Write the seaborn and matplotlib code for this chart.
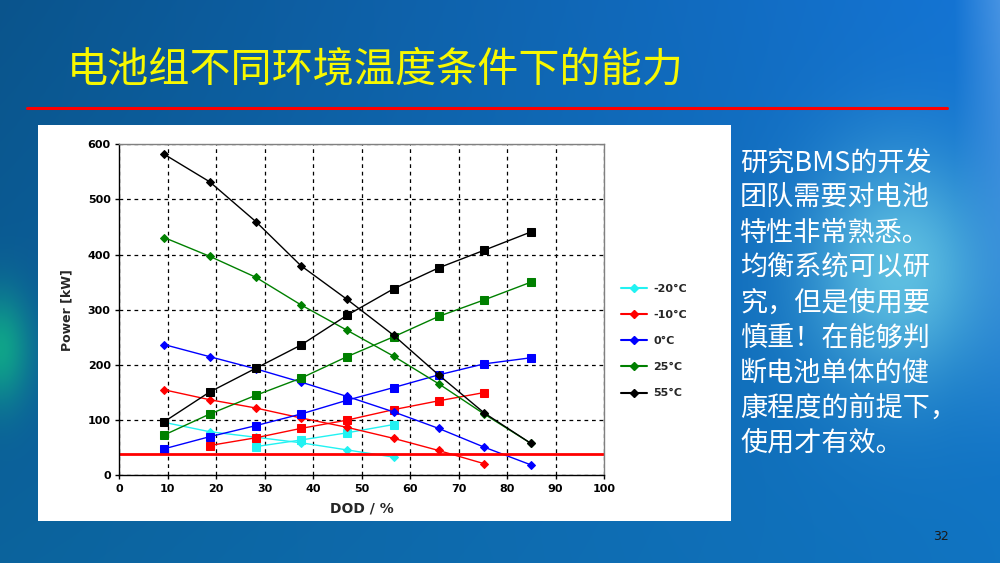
import numpy as np
import pandas as pd
import seaborn as sns
import matplotlib.pyplot as plt
from matplotlib.patches import Rectangle
from matplotlib.lines import Line2D

# DOD positions (%) of the measuring points
dod = [9.3, 18.7, 28.2, 37.5, 47.0, 56.6, 65.9, 75.3, 84.9]

temps = ["-20°C", "-10°C", "0°C", "25°C", "55°C"]
colors = ["#22f2f2", "#ff0000", "#0000ff", "#008000", "#000000"]

# discharge power (diamonds), kW
dis_m20 = [96, 79, 69, 59, 46, 33]
dis_m10 = [155, 137, 122, 104, 87, 67, 45, 21]
dis_0 = [237, 215, 193, 169, 143, 115, 85, 51, 19]
dis_25 = [431, 397, 359, 309, 263, 216, 166, 111, 58]
dis_55 = [582, 532, 460, 380, 319, 254, 182, 113, 58]

# charge power (squares), kW
chg_m20 = [52, 64, 77, 92]
chg_m10 = [54, 68, 85, 100, 119, 135, 150]
chg_0 = [48, 70, 90, 111, 136, 159, 182, 202, 213]
chg_25 = [73, 111, 145, 176, 215, 251, 288, 318, 350]
chg_55 = [97, 151, 194, 236, 290, 338, 376, 408, 441]
chg_start = [2, 1, 0, 0, 0]

limit_kw = 38

title = "电池组不同环境温度条件下的能力"
side_lines = ["研究BMS的开发", "团队需要对电池", "特性非常熟悉。", "均衡系统可以研",
              "究，但是使用要", "慎重！在能够判", "断电池单体的健", "康程度的前提下，",
              "使用才有效。"]

sns.set_style("white")
plt.rcParams['font.family'] = ['Noto Sans CJK SC', 'DejaVu Sans']

fig = plt.figure(figsize=(10, 5.63), dpi=100)

# slide background gradient
h, w = 563, 1000
yy, xx = np.mgrid[0:1:h * 1j, 0:1:w * 1j]
left = np.array([0.04, 0.33, 0.55])
right = np.array([0.08, 0.46, 0.84])
img = left * (1 - xx[..., None]) + right * xx[..., None]
bottom = np.array([0.05, 0.45, 0.68])
img = img * (1 - 0.5 * yy[..., None]) + bottom * 0.5 * yy[..., None]
spot = np.exp(-((xx - 0.90) / 0.09) ** 2 - ((yy - 0.48) / 0.2) ** 2)
img = img * (1 - 0.85 * spot[..., None]) + np.array([0.42, 0.80, 0.90]) * 0.85 * spot[..., None]
teal = np.exp(-((xx - 0.0) / 0.03) ** 2 - ((yy - 0.62) / 0.10) ** 2)
img = img * (1 - teal[..., None]) + np.array([0.06, 0.64, 0.54]) * teal[..., None]
edge = np.clip((xx - 0.955) / 0.045, 0, 1) * np.clip(1 - yy * 1.2, 0, 1)
img = img * (1 - 0.6 * edge[..., None]) + np.array([0.40, 0.65, 0.92]) * 0.6 * edge[..., None]
bg = fig.add_axes([0, 0, 1, 1], zorder=-5)
bg.imshow(np.clip(img, 0, 1), aspect='auto', extent=[0, 1, 0, 1], zorder=0)
bg.set_xlim(0, 1)
bg.set_ylim(0, 1)
bg.set_axis_off()

bg.text(0.067, 1 - 70 / 563, title, fontsize=29.6, color='#f8f800', va='center',
        fontweight='light')
bg.plot([0.027, 0.947], [1 - 107.5 / 563] * 2, color='#ff0000', lw=2.2)

# white chart panel
bg.add_patch(Rectangle((0.038, 1 - 521 / 563), 0.693, 396 / 563,
                       facecolor='white', edgecolor='none', zorder=2))

ax = fig.add_axes([0.119, (563 - 475.3) / 563, 0.485, 331 / 563], zorder=2)
ax.set_facecolor('white')

dis_all = [dis_m20, dis_m10, dis_0, dis_25, dis_55]
chg_all = [chg_m20, chg_m10, chg_0, chg_25, chg_55]
handles = []
for t, c, d, ch, s in zip(temps, colors, dis_all, chg_all, chg_start):
    df_d = pd.DataFrame({"DOD": dod[:len(d)], "P": d})
    sns.lineplot(data=df_d, x="DOD", y="P", color=c, marker='D', markersize=4.5,
                 markeredgecolor=c, lw=1.0, estimator=None, sort=False, ax=ax)
    df_c = pd.DataFrame({"DOD": dod[s:s + len(ch)], "P": ch})
    sns.lineplot(data=df_c, x="DOD", y="P", color=c, marker='s', markersize=5.8,
                 markeredgecolor=c, lw=1.0, estimator=None, sort=False, ax=ax)
    handles.append(Line2D([], [], color=c, marker='D', markersize=4, lw=1.5, label=t))

ax.axhline(limit_kw, color='#ff0000', lw=2)

ax.set_xlim(0, 100)
ax.set_ylim(0, 600)
ax.set_xticks(range(0, 101, 10))
ax.set_yticks(range(0, 601, 100))
ax.grid(True, color='black', ls=(0, (3, 3)), lw=0.9)
ax.tick_params(direction='out', length=3, width=1, labelsize=8, pad=3,
               bottom=True, left=True, colors='black')
for lab in ax.get_xticklabels() + ax.get_yticklabels():
    lab.set_fontweight('bold')
    lab.set_family('DejaVu Sans')
for sp in ['left', 'bottom']:
    ax.spines[sp].set_color('black')
    ax.spines[sp].set_linewidth(1)
for sp in ['top', 'right']:
    ax.spines[sp].set_color('#808080')
    ax.spines[sp].set_linewidth(1)
ax.set_xlabel("DOD / %", fontsize=10, fontweight='bold', family='DejaVu Sans', labelpad=6)
ax.set_ylabel("Power [kW]", fontsize=9, fontweight='bold', family='DejaVu Sans', labelpad=10)

leg = fig.legend(handles=handles, loc='upper left', bbox_to_anchor=(0.611, 1 - 274 / 563),
                 frameon=False, prop={'family': 'DejaVu Sans', 'weight': 'bold', 'size': 8},
                 handlelength=2.3, labelspacing=1.45, handletextpad=0.6)
leg.set_zorder(5)

for i, line in enumerate(side_lines):
    bg.text(0.740, 1 - (163 + 35 * i) / 563, line, fontsize=19.5, color='white', va='center')

bg.text(0.941, 1 - 537 / 563, "32", fontsize=9, color='#1a1a1a', ha='center', va='center',
        family='DejaVu Sans')

fig.savefig("out.png", dpi=100)
